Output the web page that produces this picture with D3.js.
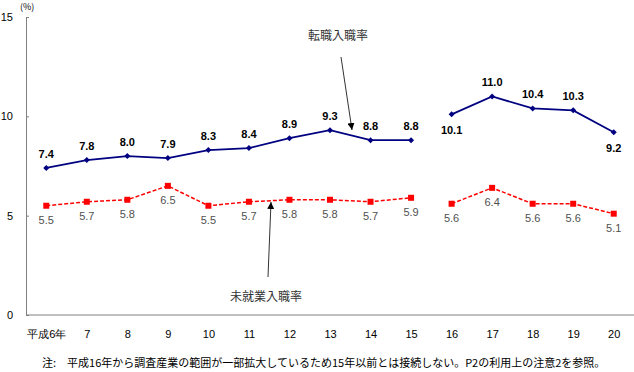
<!DOCTYPE html>
<html>
<head>
<meta charset="utf-8">
<script src="https://cdn.jsdelivr.net/npm/d3@7"></script>
<style>
  body { margin: 0; background: #fff; }
  svg { font-family: "Noto Sans CJK JP", "DejaVu Sans", sans-serif; }
</style>
</head>
<body>
<svg id="chart" width="634" height="372"></svg>
<script>
// categories (平成 years)
const years = ["平成6年", "7", "8", "9", "10", "11", "12", "13", "14", "15", "16", "17", "18", "19", "20"];
// 転職入職率 (job changers) - series breaks between 15 and 16
const tenshoku = [7.4, 7.8, 8.0, 7.9, 8.3, 8.4, 8.9, 9.3, 8.8, 8.8, 10.1, 11.0, 10.4, 10.3, 9.2];
// 未就業入職率 (previously not employed)
const mishugyo = [5.5, 5.7, 5.8, 6.5, 5.5, 5.7, 5.8, 5.8, 5.7, 5.9, 5.6, 6.4, 5.6, 5.6, 5.1];
const yTicks = [0, 5, 10, 15];
// blue labels drawn below the point
const tenshokuBelow = ["16", "20"];

const svg = d3.select("#chart");
const margin = { top: 17, right: 0, bottom: 57, left: 26 },
      width = 634 - margin.left - margin.right,
      height = 372 - margin.top - margin.bottom;

const g = svg.append("g").attr("transform", `translate(${margin.left},${margin.top})`);

const x = d3.scalePoint().domain(years).range([0, width]).padding(0.5);
const y = d3.scaleLinear().domain([0, 15]).range([height, 0]);

// axes
const yAxis = g.append("g")
  .call(d3.axisLeft(y).tickValues(yTicks).tickSize(-3).tickPadding(10));
yAxis.select(".domain").attr("stroke", "#808080");
yAxis.selectAll(".tick line").attr("stroke", "#808080");
yAxis.selectAll("text").attr("font-size", 11).attr("fill", "#000")
  .attr("text-anchor", "end").attr("x", -13);

const xAxis = g.append("g")
  .attr("transform", `translate(0,${height})`)
  .call(d3.axisBottom(x).tickSize(0).tickPadding(15));
xAxis.select(".domain").attr("stroke", "#808080").attr("d", `M0,0H${width}`);
xAxis.selectAll("text").attr("font-size", 11).attr("fill", "#000");

svg.append("text").attr("x", 20).attr("y", 10).attr("font-size", 9).text("(%)");

// split series into the two segments (before/after 16)
function segments(vals) {
  const pts = vals.map((v, i) => ({ year: years[i], value: v }));
  return [pts.slice(0, 10), pts.slice(10)];
}

const line = d3.line().x(d => x(d.year)).y(d => y(d.value));

// red dashed series
segments(mishugyo).forEach(seg => {
  g.append("path").datum(seg)
    .attr("fill", "none").attr("stroke", "#ff0000")
    .attr("stroke-width", 1.5).attr("stroke-dasharray", "4,2")
    .attr("d", line);
});
const redPts = mishugyo.map((v, i) => ({ year: years[i], value: v }));
g.selectAll(".rsq").data(redPts).join("rect")
  .attr("x", d => x(d.year) - 3).attr("y", d => y(d.value) - 3)
  .attr("width", 6).attr("height", 6).attr("fill", "#ff0000");
g.selectAll(".rlab").data(redPts).join("text")
  .attr("x", d => x(d.year)).attr("y", d => y(d.value) + 18)
  .attr("text-anchor", "middle").attr("font-size", 11).attr("fill", "#505050")
  .attr("font-family", "Liberation Sans, Arial, sans-serif")
  .text(d => d.value.toFixed(1));

// blue series
segments(tenshoku).forEach(seg => {
  g.append("path").datum(seg)
    .attr("fill", "none").attr("stroke", "#000080")
    .attr("stroke-width", 1.8)
    .attr("d", line);
});
const bluePts = tenshoku.map((v, i) => ({ year: years[i], value: v }));
g.selectAll(".bdia").data(bluePts).join("path")
  .attr("transform", d => `translate(${x(d.year)},${y(d.value)})`)
  .attr("d", "M0,-3L3,0L0,3L-3,0Z").attr("fill", "#000080");
g.selectAll(".blab").data(bluePts).join("text")
  .attr("x", d => x(d.year))
  .attr("y", d => tenshokuBelow.includes(d.year) ? y(d.value) + 20 : y(d.value) - 10)
  .attr("text-anchor", "middle").attr("font-size", 11).attr("fill", "#000")
  .attr("font-weight", "bold")
  .attr("font-family", "Liberation Sans, Arial, sans-serif")
  .text(d => d.value.toFixed(1));

// annotation arrows
svg.append("defs").append("marker")
  .attr("id", "arr").attr("viewBox", "0 0 10 10")
  .attr("refX", 10).attr("refY", 5)
  .attr("markerWidth", 7).attr("markerHeight", 7)
  .attr("markerUnits", "userSpaceOnUse")
  .attr("orient", "auto")
  .append("path").attr("d", "M0,0L10,5L0,10Z").attr("fill", "#000");

svg.append("text").attr("x", 338).attr("y", 40).attr("text-anchor", "middle")
  .attr("font-size", 12).attr("fill", "#333").text("転職入職率");
svg.append("line").attr("x1", 341).attr("y1", 57).attr("x2", 352).attr("y2", 130)
  .attr("stroke", "#333").attr("stroke-width", 1).attr("marker-end", "url(#arr)");

svg.append("text").attr("x", 266).attr("y", 301).attr("text-anchor", "middle")
  .attr("font-size", 12).attr("fill", "#333").text("未就業入職率");
svg.append("line").attr("x1", 268).attr("y1", 277).attr("x2", 271).attr("y2", 202)
  .attr("stroke", "#333").attr("stroke-width", 1).attr("marker-end", "url(#arr)");

// footnote
svg.append("text").attr("x", 42).attr("y", 367).attr("font-size", 11).attr("fill", "#000")
  .text("注:　平成16年から調査産業の範囲が一部拡大しているため15年以前とは接続しない。P2の利用上の注意2を参照。");
</script>
</body>
</html>
